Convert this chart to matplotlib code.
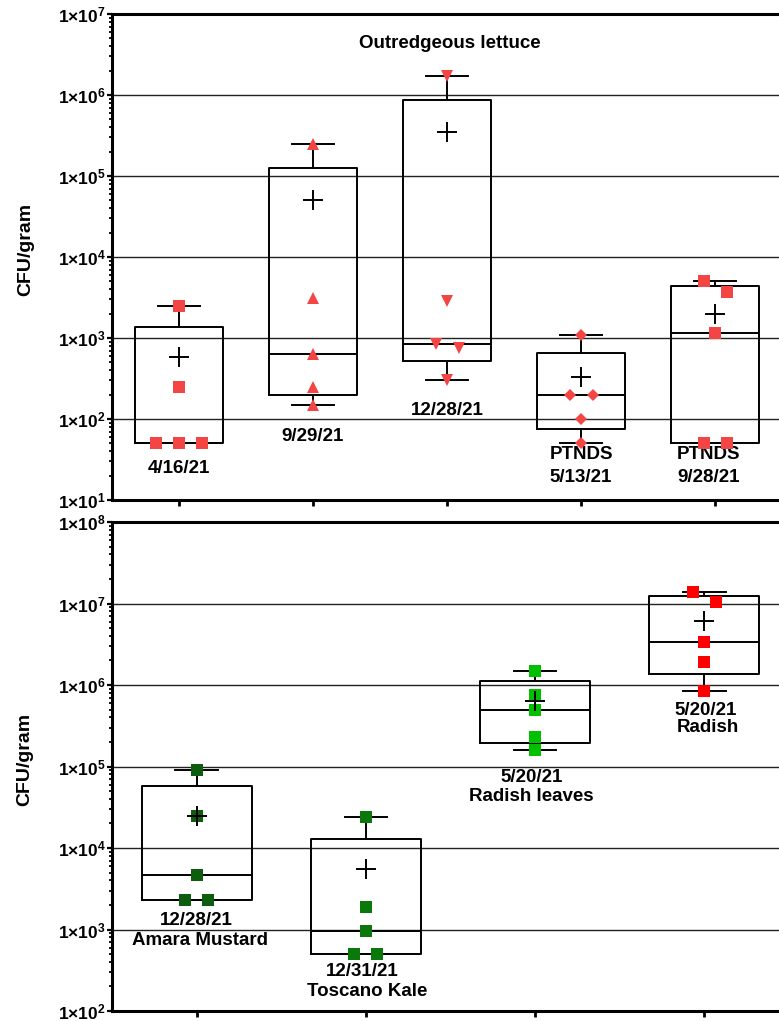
import numpy as np
import matplotlib
matplotlib.use("Agg")
import matplotlib.pyplot as plt
from matplotlib.ticker import FixedLocator, LogLocator, NullFormatter

plt.rcParams["font.family"] = ["Liberation Sans", "DejaVu Sans"]
plt.rcParams["font.weight"] = "bold"
plt.rcParams["mathtext.fontset"] = "custom"
plt.rcParams["mathtext.rm"] = "Liberation Sans:bold"
plt.rcParams["mathtext.bf"] = "Liberation Sans:bold"

# Top panel - Outredgeous lettuce (CFU/gram)
lettuce_0416 = [2500, 250, 50, 50, 50]
lettuce_0929 = [250000, 3150, 630, 250, 150]
lettuce_1228 = [1720000, 2900, 850, 750, 300]
ptnds_0513 = [1100, 200, 200, 100, 50]
ptnds_0928 = [5000, 3700, 1150, 50, 50]

# Bottom panel (CFU/gram)
mustard_1228 = [90000, 25000, 4600, 2300, 2300]
kale_1231 = [24000, 1900, 950, 500, 500]
radish_leaves_0520 = [1500000, 750000, 500000, 230000, 160000]
radish_0520 = [14000000, 10500000, 3400000, 1900000, 850000]

top_groups = [lettuce_0416, lettuce_0929, lettuce_1228, ptnds_0513, ptnds_0928]
top_markers = ["s", "^", "v", "D", "s"]
top_sizes = [8.7, 9, 9, 6, 8.7]
top_colors = ["#F44545"] * 5

bot_groups = [mustard_1228, kale_1231, radish_leaves_0520, radish_0520]
bot_colors = ["#0E5C0E", "#0A780A", "#00C000", "#FF0000"]

top_labels = [(1, 24.8, "4/16/21"), (2, 60, "9/29/21"), (3, 129, "12/28/21"),
              (4.0, 36, "PTNDS"), (4.0, 19, "5/13/21"),
              (4.95, 36, "PTNDS"), (4.95, 18.7, "9/28/21")]
bot_labels = [(1.0, 1275, "12/28/21"), (1.02, 727, "Amara Mustard"),
              (1.98, 305, "12/31/21"), (2.01, 174, "Toscano Kale"),
              (2.98, 73300, "5/20/21"), (2.98, 42900, "Radish leaves"),
              (4.01, 485000, "5/20/21"), (4.02, 298000, "Radish")]

fig = plt.figure(figsize=(7.79, 10.21), dpi=100)
ax1 = fig.add_axes([112 / 779, 1 - 500 / 1021, 670 / 779, 486 / 1021])
ax2 = fig.add_axes([112 / 779, 1 - 1011 / 1021, 677 / 779, 489 / 1021])


def style_axis(ax, lo_exp, hi_exp, ncat):
    ax.set_yscale("log")
    ax.set_ylim(10 ** lo_exp, 10 ** hi_exp)
    ax.set_xlim(0.5, ncat + 0.5)
    for e in range(lo_exp + 1, hi_exp):
        ax.axhline(10 ** e, color="#222222", lw=1.0, zorder=1)
    decades = [10 ** e for e in range(lo_exp, hi_exp + 1)]
    ax.yaxis.set_major_locator(FixedLocator(decades))
    ax.set_yticklabels([r"$\mathbf{1×10^{%d}}$" % e for e in range(lo_exp, hi_exp + 1)])
    ax.yaxis.set_minor_locator(LogLocator(base=10, subs=np.arange(2, 10), numticks=20))
    ax.yaxis.set_minor_formatter(NullFormatter())
    ax.set_xticks(range(1, ncat + 1))
    ax.set_xticklabels([])
    ax.tick_params(axis="y", which="major", direction="out", length=3.5, width=1.6,
                   labelsize=12.5, pad=1)
    ax.tick_params(axis="y", which="minor", direction="out", length=2.2, width=1.3)
    ax.tick_params(axis="x", direction="out", length=4.5, width=2)
    for side in ["left", "top", "bottom"]:
        ax.spines[side].set_linewidth(2.2)
    ax.spines["right"].set_visible(False)
    ax.set_ylabel("CFU/gram", fontsize=14, fontweight="bold")
    ax.yaxis.set_label_coords(-0.116, 0.515)


def swarm_x(ax, x, vals, thresh_px=12, step_px=23):
    vals = np.asarray(vals, dtype=float)
    order = np.argsort(-vals, kind="stable")
    ypix = ax.transData.transform(np.column_stack([np.full(len(vals), x), vals]))[:, 1]
    px_per_unit = ax.transData.transform([[1, 1]])[0, 0] - ax.transData.transform([[0, 1]])[0, 0]
    groups = [[order[0]]]
    for i in order[1:]:
        if ypix[groups[-1][-1]] - ypix[i] < thresh_px:
            groups[-1].append(i)
        else:
            groups.append([i])
    xs = np.full(len(vals), float(x))
    for g in groups:
        k = len(g)
        for j, idx in enumerate(g):
            xs[idx] = x + (j - (k - 1) / 2) * step_px / px_per_unit
    return xs


def draw_groups(ax, groups, markers, sizes, colors, box_w, cap_w):
    stats = []
    for vals in groups:
        q1, med, q3 = np.percentile(vals, [25, 50, 75], method="weibull")
        stats.append(dict(med=med, q1=q1, q3=q3, whislo=min(vals), whishi=max(vals),
                          mean=np.mean(vals), fliers=[]))
    line = dict(color="black", lw=1.4)
    ax.bxp(stats, positions=range(1, len(groups) + 1), widths=box_w, capwidths=cap_w,
           showmeans=True, boxprops=line, whiskerprops=line, capprops=line,
           medianprops=line, manage_ticks=False,
           meanprops=dict(marker="+", markersize=15, markeredgewidth=1.4,
                          markeredgecolor="black", zorder=6))
    for i, vals in enumerate(groups):
        xs = swarm_x(ax, i + 1, vals)
        ax.plot(xs, vals, ls="none", marker=markers[i], ms=sizes[i],
                color=colors[i], mew=0, zorder=5)


style_axis(ax1, 1, 7, 5)
style_axis(ax2, 2, 8, 4)

draw_groups(ax1, top_groups, top_markers, top_sizes, top_colors, 0.66, 0.31)
draw_groups(ax2, bot_groups, ["s"] * 4, [8.7] * 4, bot_colors, 0.65, 0.25)

for x, y, s in top_labels:
    ax1.text(x, y, s, ha="center", va="center", fontsize=13.5, fontweight="bold")
ax1.text(3.02, 4.38e6, "Outredgeous lettuce", ha="center", va="center",
         fontsize=13.5, fontweight="bold")
for x, y, s in bot_labels:
    ax2.text(x, y, s, ha="center", va="center", fontsize=13.5, fontweight="bold")

fig.savefig("out.png", dpi=100)
